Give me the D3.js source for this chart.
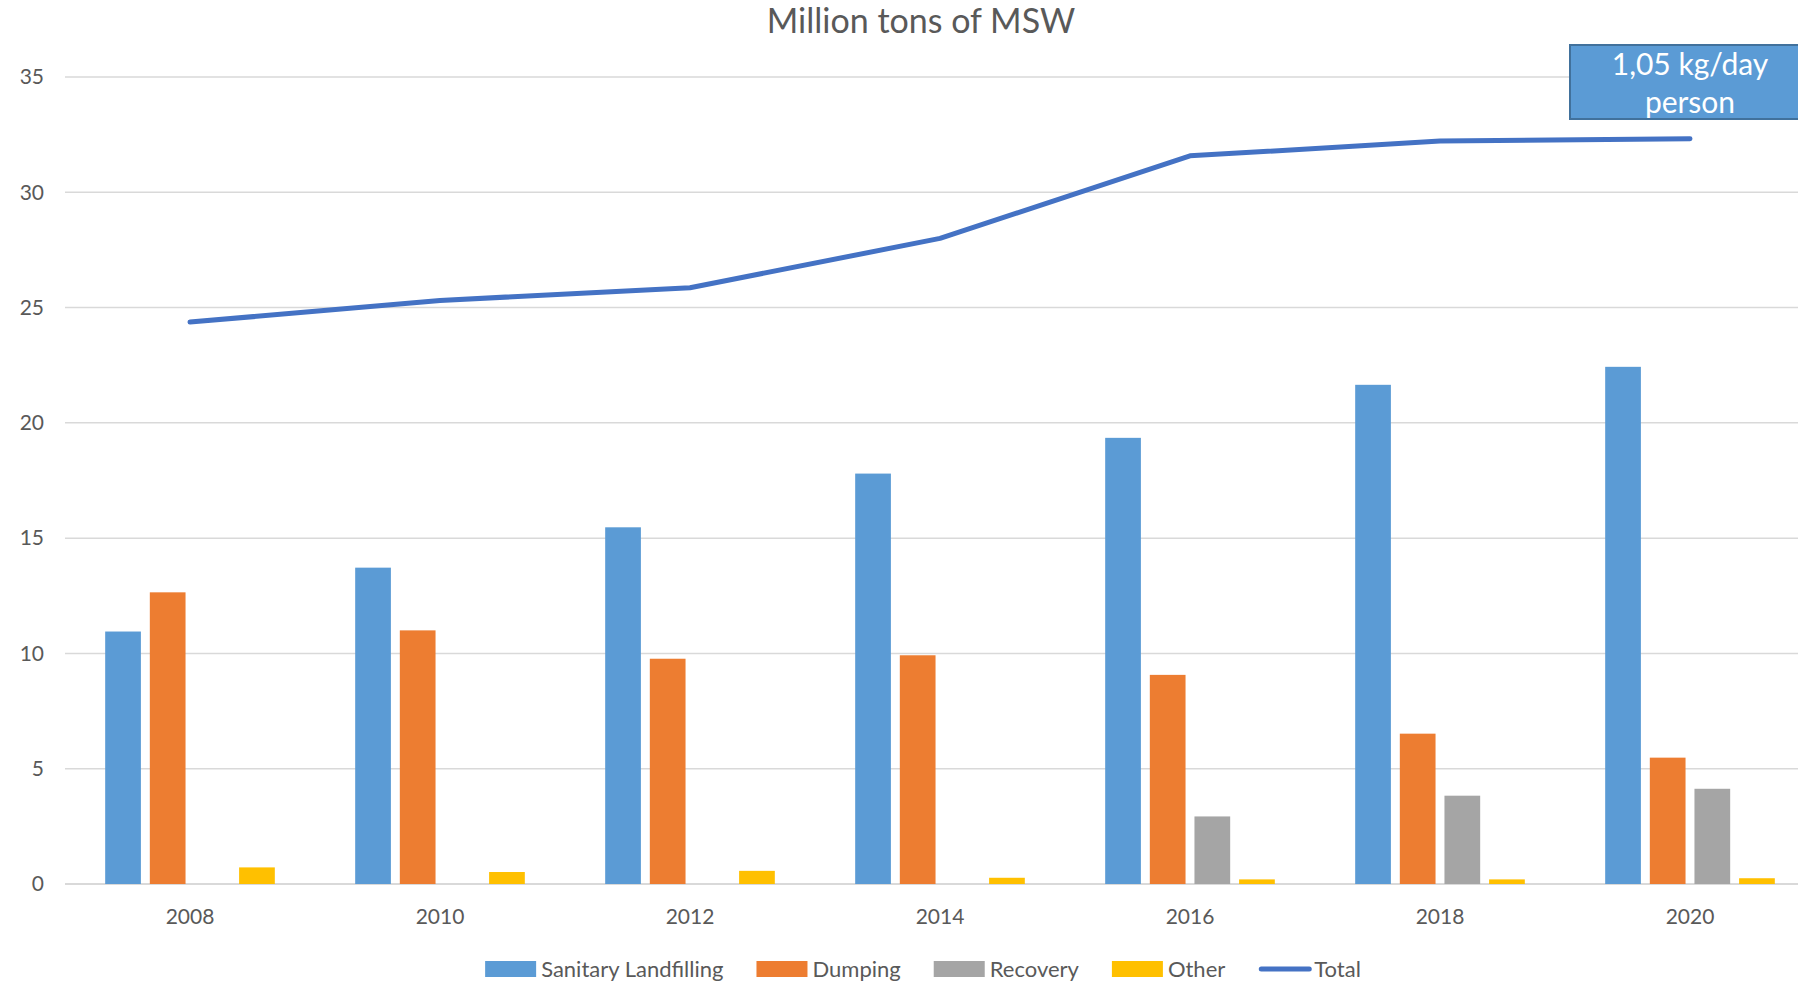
<!DOCTYPE html>
<html>
<head>
<meta charset="utf-8">
<script src="https://cdn.jsdelivr.net/npm/d3@7"></script>
<style>
  body { margin: 0; background: #fff; }
  svg { display: block; font-family: Lato, "Open Sans", sans-serif; }
</style>
</head>
<body>
<svg id="chart"></svg>
<script>
const years = ['2008', '2010', '2012', '2014', '2016', '2018', '2020'];
const seriesNames = ['Sanitary Landfilling', 'Dumping', 'Recovery', 'Other'];
const sanitary = [10.95, 13.72, 15.47, 17.8, 19.35, 21.65, 22.43];
const dumping = [12.65, 11.0, 9.77, 9.92, 9.07, 6.52, 5.48];
const recovery = [0, 0, 0, 0, 2.93, 3.83, 4.13];
const other = [0.72, 0.52, 0.57, 0.27, 0.2, 0.2, 0.25];
const total = [24.37, 25.31, 25.86, 28.0, 31.58, 32.22, 32.32];
const yTicks = [0, 5, 10, 15, 20, 25, 30, 35];
const colors = ['#5B9BD5', '#ED7D31', '#A5A5A5', '#FFC000'];
const totalColor = '#4472C4';

const W = 1798, H = 982;
const svg = d3.select('#chart').attr('width', W).attr('height', H);

const values = [sanitary, dumping, recovery, other];

const x0 = d3.scaleBand()
    .domain(years)
    .range([65, 1815]);

const x1 = d3.scaleBand()
    .domain(seriesNames)
    .range([0, x0.bandwidth()])
    .paddingInner(0.2)
    .paddingOuter(0.9);

const y = d3.scaleLinear()
    .domain([0, 35])
    .range([884, 77]);

// grid
svg.append('g')
    .selectAll('line')
    .data(yTicks)
    .join('line')
    .attr('x1', 65)
    .attr('x2', W)
    .attr('y1', d => y(d))
    .attr('y2', d => y(d))
    .attr('stroke', '#D9D9D9')
    .attr('stroke-width', d => d === 0 ? 2 : 1.5);

// y labels
svg.append('g')
    .selectAll('text')
    .data(yTicks)
    .join('text')
    .attr('x', 44)
    .attr('y', d => y(d))
    .attr('dy', '0.35em')
    .attr('text-anchor', 'end')
    .attr('fill', '#595959')
    .style('font-size', '21px')
    .text(d => d);

// x labels
svg.append('g')
    .selectAll('text')
    .data(years)
    .join('text')
    .attr('x', d => x0(d) + x0.bandwidth() / 2)
    .attr('y', 924)
    .attr('text-anchor', 'middle')
    .attr('fill', '#595959')
    .style('font-size', '21px')
    .text(d => d);

// bars
const groups = svg.append('g')
    .selectAll('g')
    .data(years)
    .join('g')
    .attr('transform', d => `translate(${x0(d)},0)`);

groups.selectAll('rect')
    .data((d, i) => seriesNames.map((s, j) => ({ s, j, v: values[j][i] })))
    .join('rect')
    .filter(d => d.v > 0)
    .attr('x', d => x1(d.s))
    .attr('y', d => y(d.v))
    .attr('width', x1.bandwidth())
    .attr('height', d => y(0) - y(d.v))
    .attr('fill', d => colors[d.j]);

// total line
const line = d3.line()
    .x((d, i) => x0(years[i]) + x0.bandwidth() / 2)
    .y(d => y(d));

svg.append('path')
    .datum(total)
    .attr('d', line)
    .attr('fill', 'none')
    .attr('stroke', totalColor)
    .attr('stroke-width', 5)
    .attr('stroke-linecap', 'round')
    .attr('stroke-linejoin', 'round');

// title
svg.append('text')
    .attr('x', 921)
    .attr('y', 33)
    .attr('text-anchor', 'middle')
    .attr('fill', '#595959')
    .style('font-size', '34px')
    .text('Million tons of MSW');

// annotation box
const cx = x0('2020') + x0.bandwidth() / 2;
svg.append('rect')
    .attr('x', 1570)
    .attr('y', 45)
    .attr('width', 260)
    .attr('height', 74)
    .attr('fill', '#5B9BD5')
    .attr('stroke', '#41719C')
    .attr('stroke-width', 2);
svg.append('text')
    .attr('x', cx)
    .attr('y', 75)
    .attr('text-anchor', 'middle')
    .attr('fill', '#fff')
    .style('font-size', '30px')
    .text('1,05 kg/day');
svg.append('text')
    .attr('x', cx)
    .attr('y', 113)
    .attr('text-anchor', 'middle')
    .attr('fill', '#fff')
    .style('font-size', '30px')
    .text('person');

// legend
const legendItems = seriesNames.map((s, i) => ({ name: s, color: colors[i], type: 'rect' }))
    .concat([{ name: 'Total', color: totalColor, type: 'line' }]);
const legend = svg.append('g');
let lx = 0;
const ly = 969;
legendItems.forEach(item => {
    const g = legend.append('g').attr('transform', `translate(${lx},0)`);
    if (item.type === 'rect') {
        g.append('rect')
            .attr('x', 0).attr('y', ly - 8)
            .attr('width', 51).attr('height', 16)
            .attr('fill', item.color);
    } else {
        g.append('line')
            .attr('x1', 3).attr('x2', 51)
            .attr('y1', ly).attr('y2', ly)
            .attr('stroke', item.color)
            .attr('stroke-width', 5)
            .attr('stroke-linecap', 'round');
    }
    const t = g.append('text')
        .attr('x', 56)
        .attr('y', ly)
        .attr('dy', '0.35em')
        .attr('fill', '#595959')
        .style('font-size', '22px')
        .text(item.name);
    lx += 56 + t.node().getComputedTextLength() + 33;
});
const legendW = lx - 33;
legend.attr('transform', `translate(${923 - legendW / 2},0)`);
</script>
</body>
</html>
